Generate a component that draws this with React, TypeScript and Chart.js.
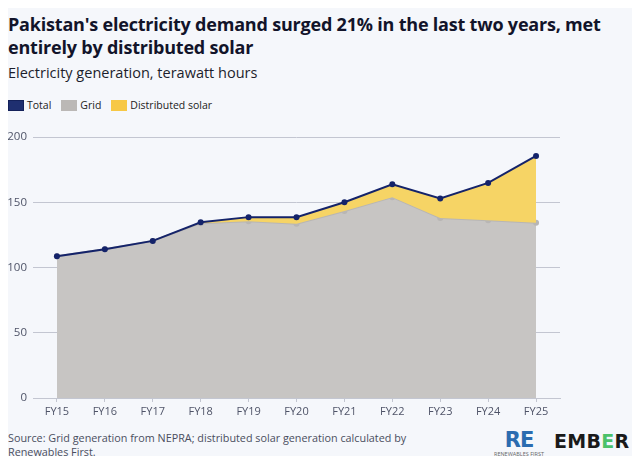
import React, { useEffect, useRef } from "react";
import { Chart, registerables } from "chart.js";

Chart.register(...registerables);

const categories = ["FY15", "FY16", "FY17", "FY18", "FY19", "FY20", "FY21", "FY22", "FY23", "FY24", "FY25"];
const totalValues = [108.7, 114, 120.4, 134.7, 138.6, 138.6, 150, 163.7, 152.9, 164.8, 185.5];
const gridValues = [108.7, 114, 120.4, 134, 135.5, 133.5, 143.2, 153.9, 138, 136.3, 134.2];
const yTicks = [0, 50, 100, 150, 200];

const FONT = "'Open Sans', 'DejaVu Sans', sans-serif";
const NAVY = "#14236a";
const GRAY_FILL = "#c7c5c3";
const GRAY_LINE = "#b8b6b4";
const YELLOW_FILL = "#f6d465";

export default function App() {
  const ref = useRef<HTMLCanvasElement | null>(null);

  useEffect(() => {
    if (!ref.current) return;
    const chart = new Chart(ref.current, {
      type: "line",
      data: {
        labels: categories,
        datasets: [
          {
            label: "Total",
            data: totalValues,
            borderColor: NAVY,
            backgroundColor: NAVY,
            borderWidth: 2,
            pointRadius: 3,
            pointBackgroundColor: NAVY,
            pointBorderWidth: 0,
            tension: 0,
            fill: { target: 1, above: YELLOW_FILL, below: YELLOW_FILL },
            order: 0,
          },
          {
            label: "Grid",
            data: gridValues,
            borderColor: GRAY_LINE,
            backgroundColor: GRAY_FILL,
            borderWidth: 2,
            pointRadius: 3,
            pointBackgroundColor: GRAY_LINE,
            pointBorderWidth: 0,
            tension: 0,
            fill: "origin",
            order: 1,
          },
        ],
      },
      options: {
        animation: false,
        responsive: false,
        maintainAspectRatio: false,
        layout: { padding: { top: 17, right: 80, left: 0, bottom: 0 } },
        plugins: {
          legend: { display: false },
          tooltip: { enabled: false },
          title: { display: false },
        },
        scales: {
          x: {
            type: "category",
            offset: true,
            grid: {
              display: true,
              drawOnChartArea: false,
              drawTicks: true,
              tickLength: 4,
              color: "#c3c6d1",
            },
            border: { display: true, color: "#c3c6d1", width: 1 },
            ticks: {
              color: "#4f5468",
              font: { family: FONT, size: 11 },
              padding: 3,
              maxRotation: 0,
              autoSkip: false,
            },
            afterFit: (scale: any) => {
              scale.height = 22;
            },
          },
          y: {
            min: 0,
            max: 200,
            z: 1,
            afterBuildTicks: (scale: any) => {
              scale.ticks = yTicks.map((v) => ({ value: v }));
            },
            grid: {
              color: "#c3c6d1",
              lineWidth: 1,
              drawTicks: false,
            },
            border: { display: false },
            ticks: {
              color: "#4f5468",
              font: { family: FONT, size: 11.5 },
              padding: 6,
            },
            afterFit: (scale: any) => {
              scale.width = 33;
            },
          },
        },
      },
    });
    return () => chart.destroy();
  }, []);

  const legendItem = (color: string, border: string, label: string) => (
    <div style={{ display: "flex", alignItems: "center", marginRight: 10 }}>
      <div
        style={{
          width: 14,
          height: 9,
          background: color,
          border: `1px solid ${border}`,
          marginRight: 3,
        }}
      />
      <span style={{ fontSize: 10.5, color: "#222" }}>{label}</span>
    </div>
  );

  return (
    <div
      style={{
        position: "relative",
        width: 640,
        height: 464,
        margin: -8,
        background: "#f5f7fb",
        fontFamily: FONT,
        overflow: "hidden",
      }}
    >
      <div
        style={{
          position: "absolute",
          left: 0,
          top: 0,
          width: 136,
          height: 2,
          background: "linear-gradient(90deg, #1e2a5e, #4fae6e)",
        }}
      />
      <div
        style={{
          position: "absolute",
          left: 8,
          top: 13,
          width: 620,
          fontSize: 18,
          fontWeight: 700,
          lineHeight: "23px",
          color: "#12142a",
          letterSpacing: -0.2,
        }}
      >
        Pakistan's electricity demand surged 21% in the last two years, met entirely by distributed solar
      </div>
      <div
        style={{
          position: "absolute",
          left: 8,
          top: 63,
          fontSize: 14.5,
          color: "#1c1e2c",
        }}
      >
        Electricity generation, terawatt hours
      </div>
      <div style={{ position: "absolute", left: 8, top: 98, display: "flex" }}>
        {legendItem("#1f2f70", "#14215a", "Total")}
        {legendItem("#bbb8b6", "#bbb8b6", "Grid")}
        {legendItem("#f7c845", "#f7c845", "Distributed solar")}
      </div>
      <canvas
        ref={ref}
        width={640}
        height={300}
        style={{ position: "absolute", left: 0, top: 120, width: 640, height: 300 }}
      />
      <div
        style={{
          position: "absolute",
          left: 8,
          top: 431,
          fontSize: 10.8,
          lineHeight: "14px",
          color: "#4a4e5e",
          width: 420,
        }}
      >
        Source: Grid generation from NEPRA; distributed solar generation calculated by Renewables First.
      </div>
      <div
        style={{
          position: "absolute",
          left: 491,
          top: 430,
          width: 56,
          textAlign: "center",
        }}
      >
        <div
          style={{
            fontSize: 21,
            fontWeight: 800,
            color: "#2b6cb0",
            lineHeight: "21px",
            letterSpacing: -1,
            fontFamily: "'DejaVu Sans', sans-serif",
          }}
        >
          RE
        </div>
        <div style={{ fontSize: 5.5, color: "#666", lineHeight: "6px", whiteSpace: "nowrap" }}>
          RENEWABLES FIRST
        </div>
      </div>
      <div
        style={{
          position: "absolute",
          left: 554,
          top: 430,
          fontSize: 19,
          fontWeight: 800,
          color: "#1a1a1a",
          letterSpacing: 0.3,
          fontFamily: "'DejaVu Sans', sans-serif",
        }}
      >
        EMB<span style={{ color: "#4cc26a" }}>E</span>R
      </div>
    </div>
  );
}
